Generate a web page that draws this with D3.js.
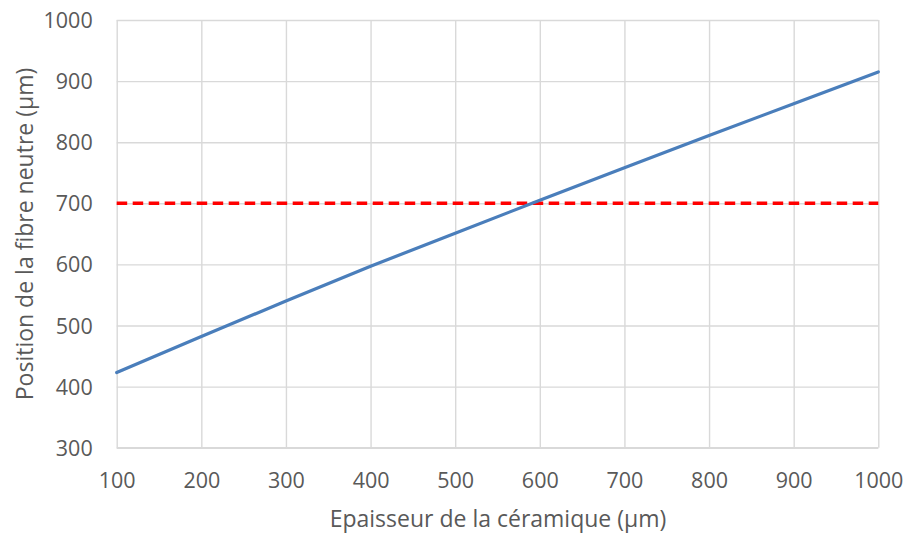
<!DOCTYPE html>
<html><head><meta charset="utf-8">
<script src="https://cdn.jsdelivr.net/npm/d3@7"></script>
<style>body{margin:0;background:#fff}svg{display:block}text{font-family:"Open Sans",sans-serif;fill:#595959}</style>
</head><body><svg id="c" width="904" height="534"></svg>
<script>
const thickness = [100,200,300,400,500,600,700,800,900,1000];
const position = [423,482,540,597,651,705,758,811,863,915];
const limitValue = 700;
const xTicks = [100,200,300,400,500,600,700,800,900,1000];
const yTicks = [300,400,500,600,700,800,900,1000];
const xTitle = "Epaisseur de la céramique (µm)";
const yTitle = "Position de la fibre neutre (µm)";

const svg = d3.select("#c");
const m = {l:116.7, r:878.3, t:20, b:447.7};
const x = d3.scaleLinear().domain([100,1000]).range([m.l,m.r]);
const y = d3.scaleLinear().domain([300,1000]).range([m.b,m.t]);

const gx = svg.append("g").attr("transform",`translate(0,${m.b})`)
  .call(d3.axisBottom(x).tickValues(xTicks).tickSize(-(m.b-m.t)).tickFormat(d=>d));
const gy = svg.append("g").attr("transform",`translate(${m.l},0)`)
  .call(d3.axisLeft(y).tickValues(yTicks).tickSize(-(m.r-m.l)).tickFormat(d=>d).tickPadding(24));
[gx,gy].forEach(g=>{
  g.select(".domain").remove();
  g.selectAll("line").attr("stroke","#d9d9d9").attr("stroke-width",1.4);
  g.selectAll("text").style("font-size","21.5px").attr("fill","#595959");
});
gx.selectAll("text").attr("y",480-m.b).attr("dy","0.35em");
gy.selectAll("text").attr("dy","0.35em");
svg.append("line").attr("x1",m.l).attr("x2",m.r).attr("y1",m.b).attr("y2",m.b).attr("stroke","#d9d9d9").attr("stroke-width",1.4);

svg.append("line").attr("x1",x(100)).attr("x2",x(1000)).attr("y1",y(limitValue)).attr("y2",y(limitValue))
  .attr("stroke","#ff0000").attr("stroke-width",3.5).attr("stroke-dasharray","10.5,5.5");

svg.append("path").datum(thickness.map((d,i)=>[d,position[i]]))
  .attr("fill","none").attr("stroke","#4a7ebb").attr("stroke-width",3.2).attr("stroke-linecap","round")
  .attr("d",d3.line().x(d=>x(d[0])).y(d=>y(d[1])));

svg.append("text").attr("x",(m.l+m.r)/2+0.5).attr("y",527).attr("text-anchor","middle")
  .style("font-size","23px").text(xTitle);
svg.append("text").attr("transform",`translate(33,234) rotate(-90)`).attr("text-anchor","middle")
  .style("font-size","23px").text(yTitle);
</script></body></html>
